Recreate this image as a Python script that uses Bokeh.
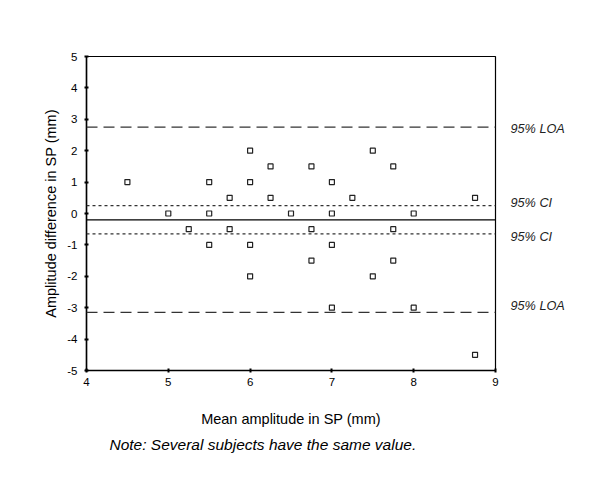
from bokeh.plotting import figure
from bokeh.models import (ColumnDataSource, Span, FixedTicker, Range1d,
                          LinearAxis, Title)
from bokeh.embed import file_html
from bokeh.resources import INLINE

# Data
mean_amp = [4.5, 5.0, 5.25, 5.5, 5.5, 5.5, 5.75, 5.75, 6.0, 6.0, 6.0, 6.0,
            6.25, 6.25, 6.5, 6.75, 6.75, 6.75, 7.0, 7.0, 7.0, 7.0, 7.25,
            7.5, 7.5, 7.75, 7.75, 7.75, 8.0, 8.0, 8.75, 8.75]
diff_amp = [1.0, 0.0, -0.5, 1.0, 0.0, -1.0, 0.5, -0.5, 2.0, 1.0, -1.0, -2.0,
            1.5, 0.5, 0.0, 1.5, -0.5, -1.5, 1.0, 0.0, -1.0, -3.0, 0.5,
            2.0, -2.0, 1.5, -0.5, -1.5, 0.0, -3.0, 0.5, -4.5]

mean_diff = -0.2
loa_values = [2.75, -3.15]
ci_values = [0.25, -0.65]
line_labels = ["95% LOA", "95% CI", "95% CI", "95% LOA"]
label_y = [2.7, 0.33, -0.75, -2.95]
x_ticks = [4, 5, 6, 7, 8, 9]
y_ticks = [-5, -4, -3, -2, -1, 0, 1, 2, 3, 4, 5]
y_tick_labels = ["-5", "-4", "-3", "-2", "-1", "0", "1", "2", "3", "4", "5"]
note = "Note: Several subjects have the same value."

FONT = "Liberation Sans"

p = figure(width=600, height=480, output_backend="svg", toolbar_location=None,
           x_range=Range1d(4, 9), y_range=Range1d(-5, 5),
           min_border_left=86, min_border_right=105,
           min_border_top=56, min_border_bottom=110)
p.grid.visible = False
p.outline_line_color = "black"
p.outline_line_width = 1.2
p.background_fill_color = "white"
p.border_fill_color = "white"

for ax in (p.xaxis[0], p.yaxis[0]):
    ax.axis_line_color = "black"
    ax.axis_line_width = 1.5
    ax.major_tick_line_color = "black"
    ax.major_tick_line_width = 2
    ax.major_tick_in = 2
    ax.major_tick_out = 2
    ax.minor_tick_line_color = None
    ax.major_label_text_font = FONT
    ax.major_label_text_font_size = "11.5px"
    ax.major_label_text_color = "black"
    ax.axis_label_text_font = FONT
    ax.axis_label_text_font_style = "normal"
    ax.axis_label_text_font_size = "14.5px"
    ax.axis_label_text_color = "black"

p.xaxis.ticker = FixedTicker(ticks=x_ticks)
p.yaxis.ticker = FixedTicker(ticks=y_ticks)
p.yaxis.major_label_overrides = {v: t for v, t in zip(y_ticks, y_tick_labels)}
p.xaxis.axis_label = "Mean amplitude in SP (mm)"
p.yaxis.axis_label = "Amplitude difference in SP (mm)"
p.yaxis.major_label_standoff = 7
p.xaxis.major_label_standoff = 5
p.yaxis.axis_label_standoff = 5
p.xaxis.axis_label_standoff = 22

# right-side labels for reference lines
rax = LinearAxis(ticker=FixedTicker(ticks=label_y),
                 major_label_overrides={y: t for y, t in zip(label_y, line_labels)},
                 axis_line_color=None, major_tick_line_color=None,
                 minor_tick_line_color=None,
                 major_label_text_font=FONT, major_label_text_font_style="italic",
                 major_label_text_font_size="12.7px", major_label_text_color="#222222",
                 major_label_standoff=9)
p.add_layout(rax, "right")

# reference lines
for v in loa_values:
    p.add_layout(Span(location=v, dimension="width", line_color="#333333",
                      line_width=1.2, line_dash="11 6"))
for v in ci_values:
    p.add_layout(Span(location=v, dimension="width", line_color="#333333",
                      line_width=1.2, line_dash="3 3"))
p.add_layout(Span(location=mean_diff, dimension="width", line_color="black",
                  line_width=1.2))

src = ColumnDataSource(dict(x=mean_amp, y=diff_amp))
p.scatter("x", "y", source=src, marker="square", size=5, fill_color="white",
          line_color="#222222", line_width=1.2)

p.add_layout(Title(text=note, align="left", offset=23, standoff=9,
                   text_font=FONT, text_font_style="italic", text_font_size="15.5px",
                   text_color="black"), "below")

open("out.html", "w").write(file_html(p, INLINE))
